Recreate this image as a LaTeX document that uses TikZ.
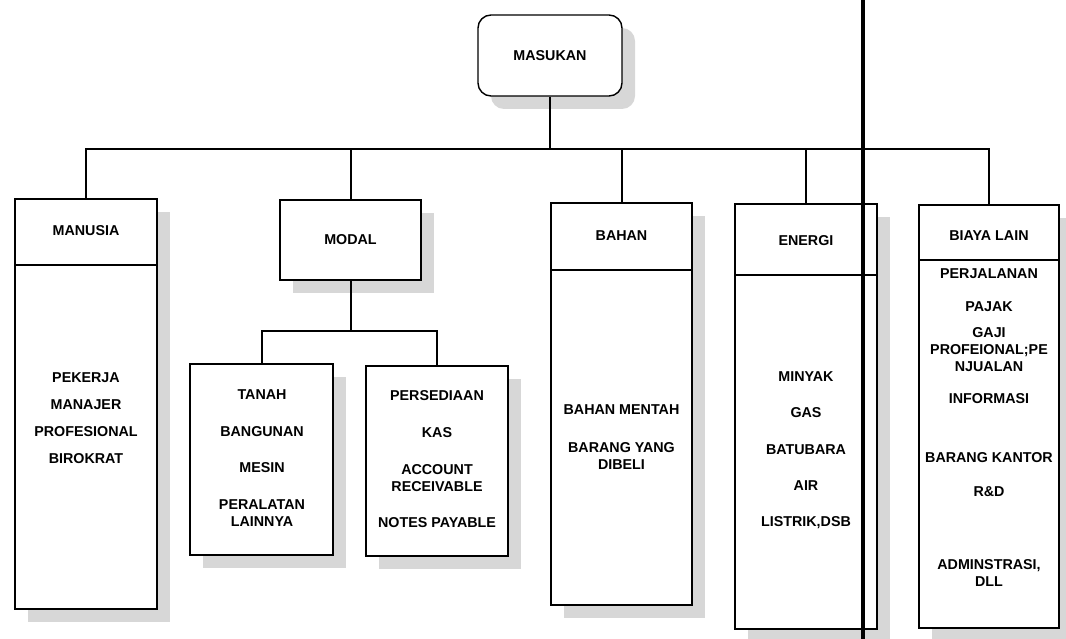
\documentclass[tikz,border=0pt]{standalone}
\usepackage{fontspec}
\setmainfont{Liberation Sans}
\usetikzlibrary{shadows}
\definecolor{shadegray}{RGB}{215,215,215}

\tikzset{
  boxstyle/.style={draw, line width=1.4pt, fill=white, inner sep=0pt,
    drop shadow={shadow xshift=13pt, shadow yshift=-13pt, fill=shadegray, opacity=1}},
  itemtext/.style={font=\fontsize{14.3}{17}\selectfont\bfseries, align=center, inner sep=0pt},
  link/.style={line width=2pt},
  divider/.style={line width=1.4pt}
}

\begin{document}
\begin{tikzpicture}[x=1pt, y=-1pt]
\useasboundingbox (0,0) rectangle (1066,639);

% top box
\node[boxstyle, itemtext, rounded corners=13pt, minimum width=144pt, minimum height=81pt] (masukan) at (550,55.5) {MASUKAN};

% columns
\node[boxstyle, minimum width=142pt, minimum height=410pt] (manusia) at (86,404) {};
\node[boxstyle, itemtext, minimum width=141pt, minimum height=80pt] (modal) at (350.5,240) {MODAL};
\node[boxstyle, minimum width=143pt, minimum height=191pt] (tanah) at (261.5,459.5) {};
\node[boxstyle, minimum width=142pt, minimum height=190pt] (persediaan) at (437,461) {};
\node[boxstyle, minimum width=141pt, minimum height=402pt] (bahan) at (621.5,404) {};
\node[boxstyle, minimum width=142pt, minimum height=425pt] (energi) at (806,416.5) {};
\node[boxstyle, minimum width=140pt, minimum height=423pt] (biaya) at (989,416.5) {};

% header lines
\draw[divider] (manusia.west |- 0,265) -- (manusia.east |- 0,265);
\draw[divider] (bahan.west |- 0,270) -- (bahan.east |- 0,270);
\draw[divider] (energi.west |- 0,275) -- (energi.east |- 0,275);
\draw[divider] (biaya.west |- 0,260) -- (biaya.east |- 0,260);

% headers
\node[itemtext] (hmanusia) at (86,231) {MANUSIA};
\node[itemtext] (hbahan) at (621.5,236) {BAHAN};
\node[itemtext] (henergi) at (806,241) {ENERGI};
\node[itemtext] (hbiaya) at (989,236) {BIAYA LAIN};

% manusia
\node[itemtext] (m1) at (86,378) {PEKERJA};
\node[itemtext] (m2) at (86,405) {MANAJER};
\node[itemtext] (m3) at (86,432) {PROFESIONAL};
\node[itemtext] (m4) at (86,459) {BIROKRAT};

% modal
\node[itemtext] (t1) at (262,395) {TANAH};
\node[itemtext] (t2) at (262,432) {BANGUNAN};
\node[itemtext] (t3) at (262,468) {MESIN};
\node[itemtext] (t4) at (262,513.5) {PERALATAN\\LAINNYA};
\node[itemtext] (p1) at (437,396) {PERSEDIAAN};
\node[itemtext] (p2) at (437,433) {KAS};
\node[itemtext] (p3) at (437,478) {ACCOUNT\\RECEIVABLE};
\node[itemtext] (p4) at (437,523) {NOTES PAYABLE};

% bahan
\node[itemtext] (b1) at (621.5,410) {BAHAN MENTAH};
\node[itemtext] (b2) at (621.5,456) {BARANG YANG\\DIBELI};

% energi
\node[itemtext] (e1) at (806,377) {MINYAK};
\node[itemtext] (e2) at (806,413) {GAS};
\node[itemtext] (e3) at (806,450) {BATUBARA};
\node[itemtext] (e4) at (806,486) {AIR};
\node[itemtext] (e5) at (806,523) {LISTRIK,DSB};

% biaya lain
\node[itemtext] (l1) at (989,274) {PERJALANAN};
\node[itemtext] (l2) at (989,307) {PAJAK};
\node[itemtext] (l3) at (989,350) {GAJI\\PROFEIONAL;PE\\NJUALAN};
\node[itemtext] (l4) at (989,399) {INFORMASI};
\node[itemtext] (l5) at (989,458) {BARANG KANTOR};
\node[itemtext] (l6) at (989,492) {R\&D};
\node[itemtext] (l7) at (989,573) {ADMINSTRASI,\\DLL};

% connectors
\coordinate (bus) at (550,149);
\coordinate (subbus) at (350.5,331);
\draw[link] (masukan.south) -- (bus);
\draw[link] (manusia.north) |- (bus) -| (biaya.north);
\draw[link] (modal.north) -- (modal.north |- bus);
\draw[link] (bahan.north) -- (bahan.north |- bus);
\draw[link] (energi.north) -- (energi.north |- bus);
\draw[link] (modal.south) -- (subbus);
\draw[link] (tanah.north) |- (subbus) -| (persediaan.north);

% cut line
\coordinate (cuttop) at (863,0);
\coordinate (cutbot) at (863,639);
\draw[line width=3.5pt] (cuttop) -- (cutbot);
\end{tikzpicture}
\end{document}
